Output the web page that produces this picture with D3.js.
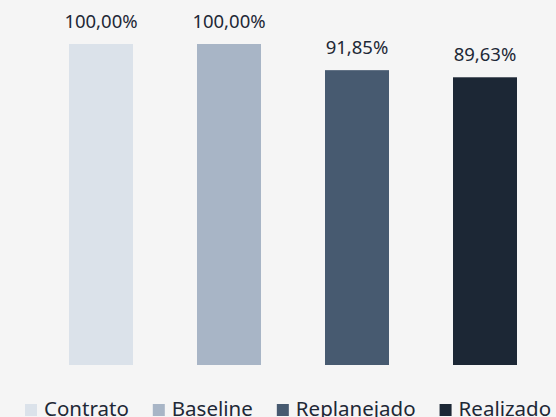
<!DOCTYPE html>
<html>
<head>
<meta charset="utf-8">
<script src="https://cdn.jsdelivr.net/npm/d3@7"></script>
<style>
  html, body { margin: 0; padding: 0; background: #f5f5f5; }
  #chart { width: 556px; height: 417px; overflow: hidden; }
  text { font-family: "Noto Sans", sans-serif; fill: #1e2836; }
</style>
</head>
<body>
<div id="chart"></div>
<script>
// Dados do gráfico
const categorias = ['Contrato', 'Baseline', 'Replanejado', 'Realizado'];
const valores = [100.00, 100.00, 91.85, 89.63];
const cores = ['#dbe2ea', '#a8b5c6', '#475a70', '#1c2735'];

const width = 556;
const height = 417;

const svg = d3.select('#chart')
  .append('svg')
  .attr('width', width)
  .attr('height', height);

// Escalas
const x = d3.scaleBand()
  .domain(categorias)
  .range([37, 549])
  .paddingInner(0.5)
  .paddingOuter(0.25);

const y = d3.scaleLinear()
  .domain([0, 100])
  .range([365, 44]);

const fmt = v => v.toFixed(2).replace('.', ',') + '%';

// Barras
svg.selectAll('.bar')
  .data(valores)
  .enter()
  .append('rect')
  .attr('class', 'bar')
  .attr('x', (d, i) => x(categorias[i]))
  .attr('y', d => y(d))
  .attr('width', x.bandwidth())
  .attr('height', d => y(0) - y(d))
  .attr('fill', (d, i) => cores[i]);

// Rótulos de valor
svg.selectAll('.rotulo')
  .data(valores)
  .enter()
  .append('text')
  .attr('class', 'rotulo')
  .attr('x', (d, i) => x(categorias[i]) + x.bandwidth() / 2)
  .attr('y', d => y(d) - 16)
  .attr('text-anchor', 'middle')
  .style('font-size', '18.5px')
  .text(d => fmt(d));

// Legenda
const legenda = svg.append('g').attr('class', 'legenda');
let lx = 25;
categorias.forEach((c, i) => {
  const item = legenda.append('g').attr('transform', `translate(${lx},0)`);
  item.append('rect')
    .attr('x', 0)
    .attr('y', 404)
    .attr('width', 12)
    .attr('height', 12)
    .attr('fill', cores[i]);
  const t = item.append('text')
    .attr('x', 19)
    .attr('y', 416)
    .style('font-size', '20.5px')
    .text(c);
  lx += 19 + t.node().getComputedTextLength() + 24;
});
</script>
</body>
</html>
